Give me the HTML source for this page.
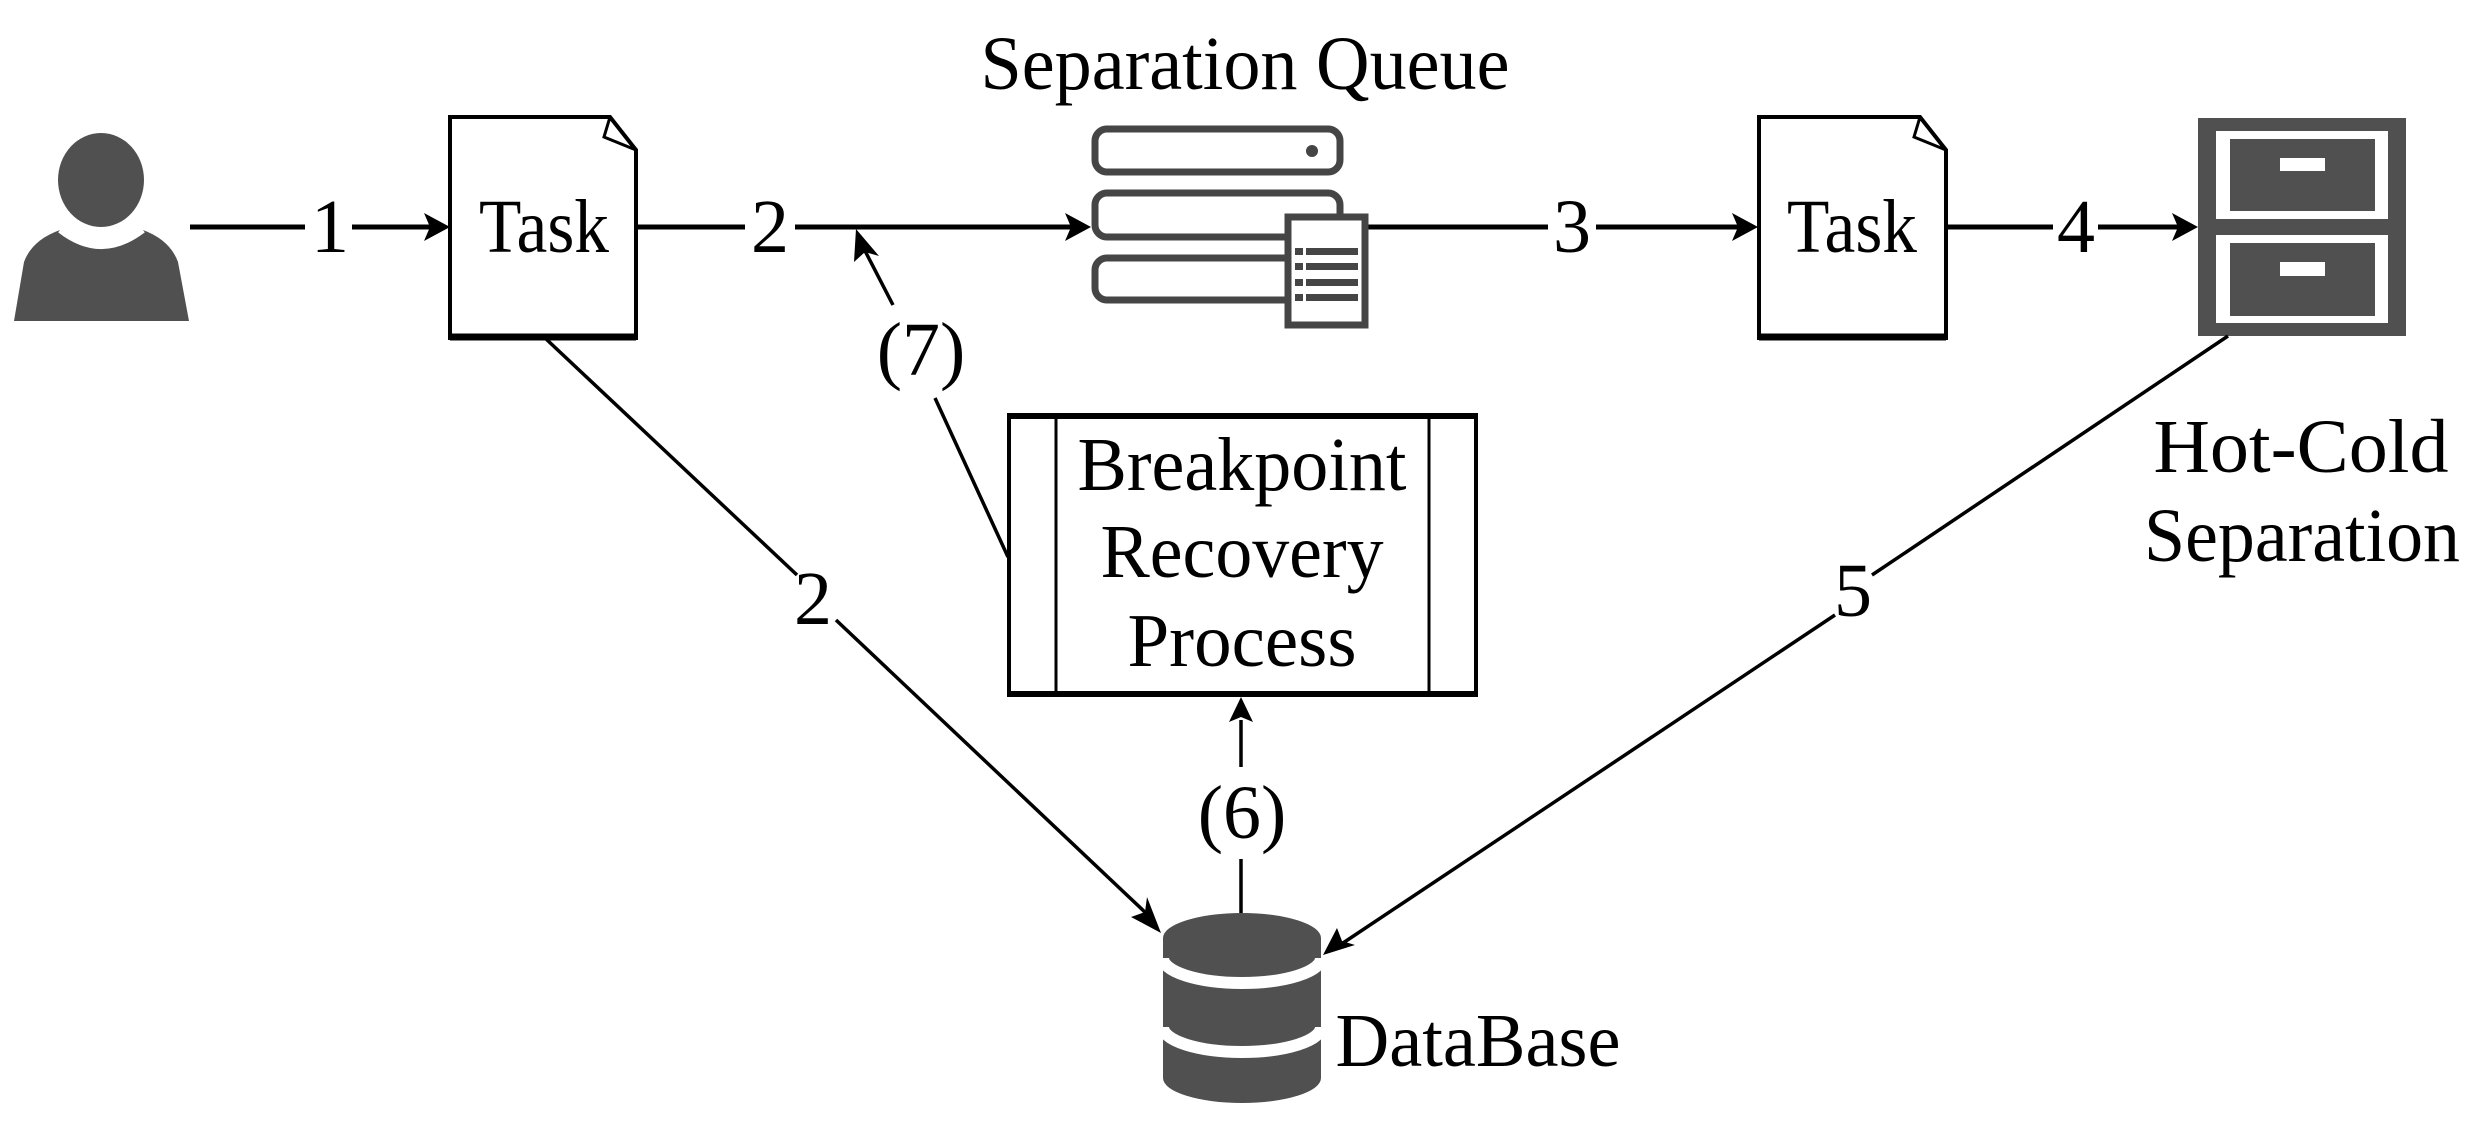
<!DOCTYPE html>
<html><head><style>html,body{margin:0;padding:0;background:#fff}svg{display:block}text{font-family:"Liberation Serif","Times New Roman","DejaVu Serif",serif}</style></head>
<body>
<svg width="2478" height="1125" viewBox="0 0 2478 1125" xmlns="http://www.w3.org/2000/svg" font-family="'Liberation Serif', 'Times New Roman', 'DejaVu Serif', serif">
<ellipse cx="101" cy="180" rx="43" ry="47" fill="#505050"/>
<path d="M60,230 Q101,262 143,230 Q170,240 178,262 L189,321 L14,321 L24,262 Q32,240 60,230 Z" fill="#505050"/>
<path d="M60,230 Q101,262 143,230" fill="none" stroke="#fff" stroke-width="6"/>

<g stroke="#000" stroke-width="5" fill="none">
<line x1="190" y1="227" x2="305" y2="227"/><line x1="352" y1="227" x2="440" y2="227"/>
<line x1="636" y1="227" x2="745" y2="227"/><line x1="795" y1="227" x2="1080" y2="227"/>
<line x1="1368" y1="227" x2="1548" y2="227"/><line x1="1596" y1="227" x2="1748" y2="227"/>
<line x1="1946" y1="227" x2="2053" y2="227"/><line x1="2098" y1="227" x2="2188" y2="227"/>
</g>
<g fill="#000">
<polygon points="450,227 424,213 430,227 424,241"/>
<polygon points="1091,227 1065,213 1071,227 1065,241"/>
<polygon points="1758,227 1732,213 1738,227 1732,241"/>
<polygon points="2198,227 2172,213 2178,227 2172,241"/>
</g>
<path d="M450,117 L610,117 L636,150 L636,338 L450,338 Z" fill="#fff" stroke="#000" stroke-width="4"/>
<line x1="450" y1="337" x2="636" y2="337" stroke="#000" stroke-width="7"/>
<path d="M610,117 L604,137 L636,150" fill="none" stroke="#000" stroke-width="3"/>
<path d="M1759,117 L1920,117 L1946,150 L1946,338 L1759,338 Z" fill="#fff" stroke="#000" stroke-width="4"/>
<line x1="1759" y1="337" x2="1946" y2="337" stroke="#000" stroke-width="7"/>
<path d="M1920,117 L1914,137 L1946,150" fill="none" stroke="#000" stroke-width="3"/>
<g font-size="76" text-anchor="middle">
<text x="544" y="252" textLength="130" lengthAdjust="spacingAndGlyphs">Task</text>
<text x="1852" y="252" textLength="130" lengthAdjust="spacingAndGlyphs">Task</text>
<text x="330" y="252">1</text>
<text x="770" y="252">2</text>
<text x="1572" y="252">3</text>
<text x="2076" y="252">4</text>
<text x="1245" y="89" textLength="529" lengthAdjust="spacingAndGlyphs">Separation Queue</text>
<text x="2301" y="472" textLength="295" lengthAdjust="spacingAndGlyphs">Hot-Cold</text>
<text x="2302" y="561" textLength="316" lengthAdjust="spacingAndGlyphs">Separation</text>
<text x="1242" y="490" textLength="329" lengthAdjust="spacingAndGlyphs">Breakpoint</text>
<text x="1242" y="577" textLength="283" lengthAdjust="spacingAndGlyphs">Recovery</text>
<text x="1242" y="666" textLength="229" lengthAdjust="spacingAndGlyphs">Process</text>
<text x="921" y="375">(7)</text>
<text x="1242" y="838">(6)</text>
<text x="813" y="624">2</text>
<text x="1853" y="616">5</text>
<text x="1478" y="1066" textLength="285" lengthAdjust="spacingAndGlyphs">DataBase</text>
</g>
<g stroke="#454545" stroke-width="7" fill="#fff">
<rect x="1095" y="129" width="245" height="43" rx="12"/>
<rect x="1095" y="193" width="245" height="44" rx="12"/>
<rect x="1095" y="258" width="245" height="42" rx="12"/>
<rect x="1288" y="217" width="77" height="108"/>
</g>
<circle cx="1312" cy="151" r="6" fill="#454545"/>
<g fill="#454545">
<rect x="1295" y="248" width="8" height="7"/><rect x="1306" y="248" width="52" height="7"/>
<rect x="1295" y="263" width="8" height="7"/><rect x="1306" y="263" width="52" height="7"/>
<rect x="1295" y="279" width="8" height="7"/><rect x="1306" y="279" width="52" height="7"/>
<rect x="1295" y="294" width="8" height="7"/><rect x="1306" y="294" width="52" height="7"/>
</g>
<rect x="2198" y="118" width="208" height="218" fill="#505050"/>
<rect x="2216" y="131" width="172" height="88" fill="#fff"/>
<rect x="2216" y="235" width="172" height="88" fill="#fff"/>
<rect x="2230" y="139" width="145" height="72" fill="#505050"/>
<rect x="2230" y="243" width="145" height="73" fill="#505050"/>
<rect x="2280" y="158" width="45" height="13" fill="#fff"/>
<rect x="2280" y="262" width="45" height="14" fill="#fff"/>
<rect x="1009" y="415" width="467" height="280" fill="none" stroke="#000" stroke-width="4"/>
<line x1="1009" y1="416" x2="1476" y2="416" stroke="#000" stroke-width="6"/>
<line x1="1009" y1="694" x2="1476" y2="694" stroke="#000" stroke-width="6"/>
<line x1="1056" y1="415" x2="1056" y2="695" stroke="#000" stroke-width="3"/>
<line x1="1429" y1="415" x2="1429" y2="695" stroke="#000" stroke-width="3"/>
<g stroke="#000" stroke-width="3.5" fill="none">
<line x1="545" y1="338" x2="797" y2="575"/>
<line x1="836" y1="620" x2="1148" y2="915"/>
<line x1="2228" y1="336" x2="1872" y2="575"/>
<line x1="1835" y1="615" x2="1340" y2="945"/>
<line x1="1008" y1="557" x2="935" y2="398"/>
<line x1="893" y1="305" x2="862" y2="245"/>
<line x1="1241" y1="767" x2="1241" y2="720"/>
<line x1="1241" y1="859" x2="1241" y2="913"/>
</g>
<g fill="#000">
<polygon points="1161,933 1131,917 1145,912 1147,897"/>
<polygon points="1323,955 1337,928 1342,941 1355,945"/>
<polygon points="856,229 854,262 865,252 879,256"/>
<polygon points="1241,697 1229,722 1241,717 1253,722"/>
</g>
<path d="M1163,938 A79,25 0 0 1 1321,938 L1321,1078 A79,25 0 0 1 1163,1078 Z" fill="#505050"/>
<path d="M1163,958 A79,25 0 0 0 1321,958" fill="none" stroke="#fff" stroke-width="12"/>
<path d="M1163,1027 A79,25 0 0 0 1321,1027" fill="none" stroke="#fff" stroke-width="12"/>
</svg>
</body></html>
